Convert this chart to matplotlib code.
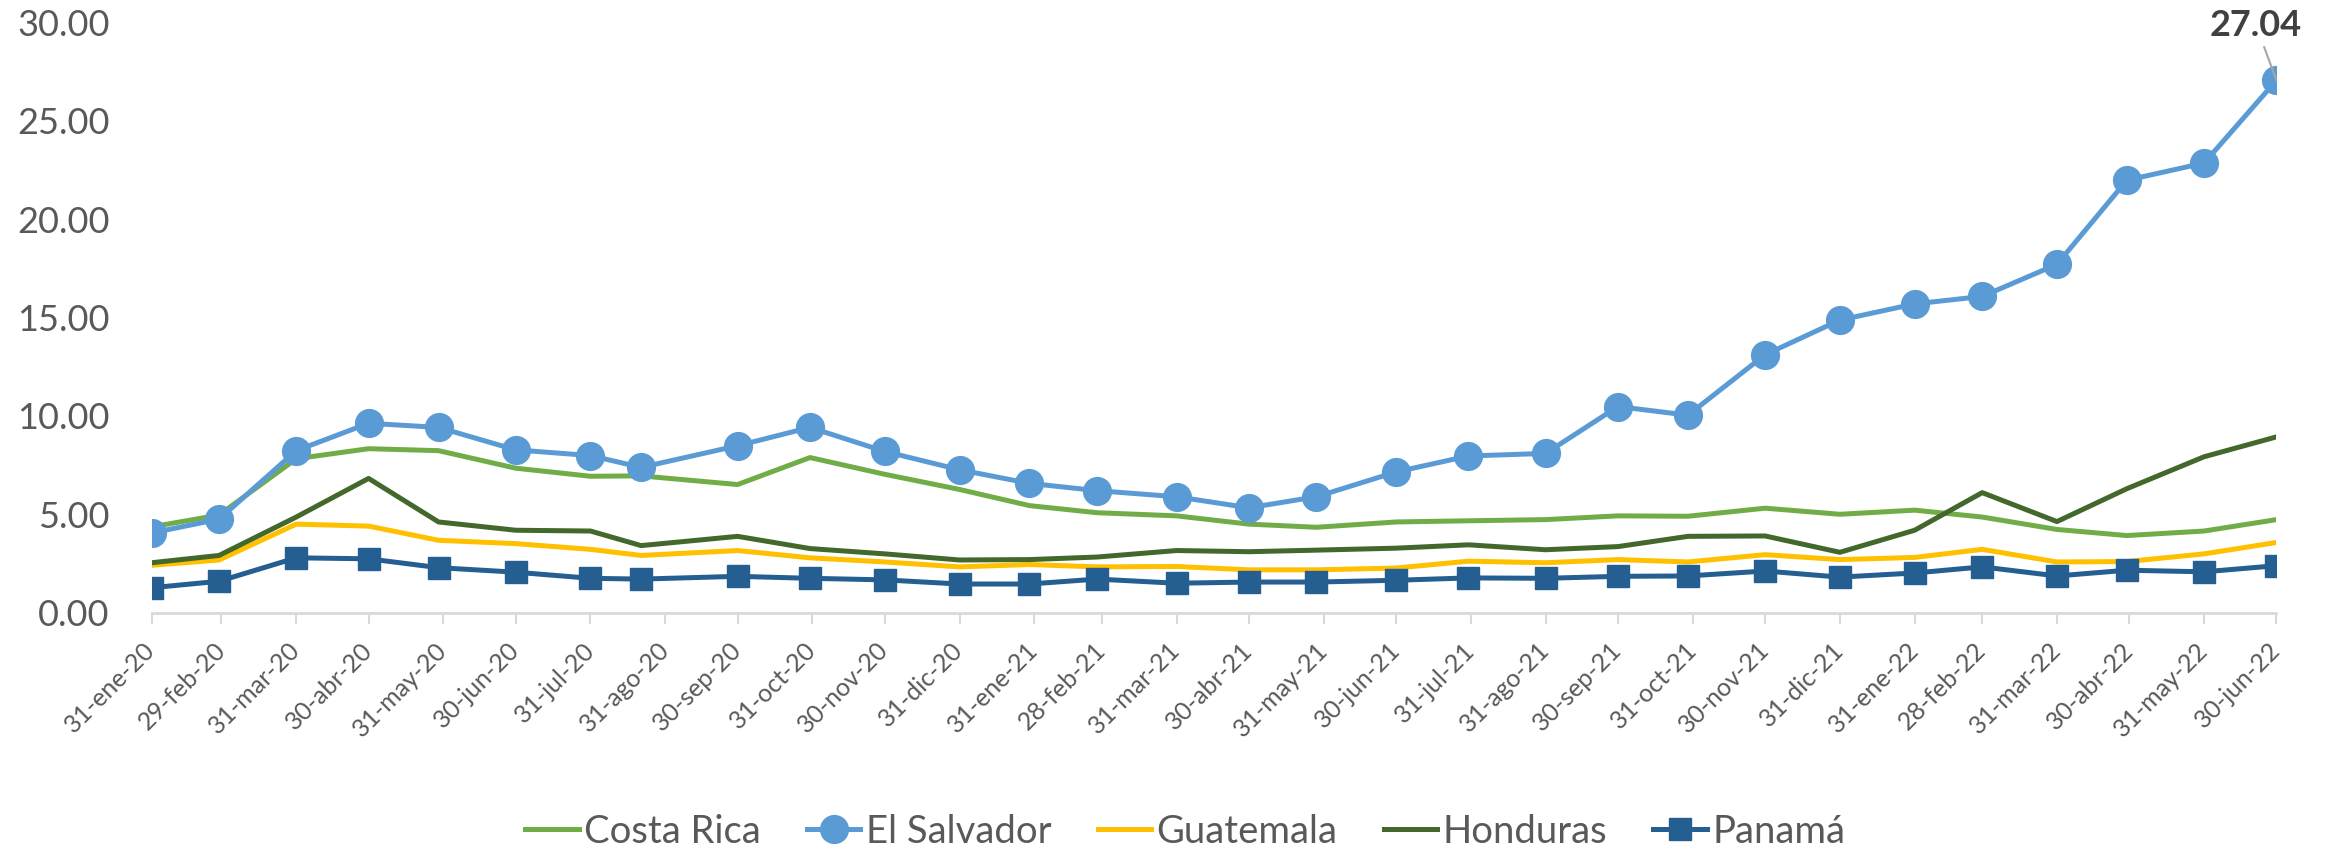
import numpy as np
import pandas as pd
import matplotlib
matplotlib.use('Agg')
import matplotlib.pyplot as plt

plt.rcParams['font.family'] = ['Lato', 'DejaVu Sans']

# fechas de cada dato (ultimo dia habil del mes, agosto 2020 a mitad de mes)
dates = pd.to_datetime([
    '2020-01-31', '2020-02-28', '2020-03-31', '2020-04-30', '2020-05-29', '2020-06-30',
    '2020-07-31', '2020-08-21', '2020-09-30', '2020-10-30', '2020-11-30', '2020-12-31',
    '2021-01-29', '2021-02-26', '2021-03-31', '2021-04-30', '2021-05-28', '2021-06-30',
    '2021-07-30', '2021-08-31', '2021-09-30', '2021-10-29', '2021-11-30', '2021-12-31',
    '2022-01-31', '2022-02-28', '2022-03-31', '2022-04-29', '2022-05-31', '2022-06-30'])

costa_rica = [4.37, 4.97, 7.83, 8.34, 8.24, 7.35, 6.94, 6.96, 6.52, 7.89, 7.04, 6.27, 5.45, 5.09, 4.93,
              4.51, 4.35, 4.62, 4.68, 4.74, 4.93, 4.91, 5.32, 5.01, 5.22, 4.87, 4.24, 3.93, 4.16, 4.74]
el_salvador = [4.06, 4.76, 8.24, 9.63, 9.42, 8.28, 7.99, 7.39, 8.49, 9.42, 8.20, 7.27, 6.58, 6.21, 5.90,
               5.34, 5.90, 7.16, 7.97, 8.10, 10.48, 10.04, 13.11, 14.87, 15.69, 16.07, 17.70, 21.97, 22.84, 27.04]
guatemala = [2.42, 2.69, 4.51, 4.41, 3.69, 3.52, 3.23, 2.92, 3.17, 2.80, 2.59, 2.34, 2.46, 2.34, 2.36,
             2.19, 2.19, 2.28, 2.63, 2.55, 2.71, 2.59, 2.96, 2.71, 2.82, 3.23, 2.59, 2.61, 3.00, 3.58]
honduras = [2.55, 2.92, 4.87, 6.83, 4.62, 4.20, 4.16, 3.42, 3.89, 3.27, 3.00, 2.69, 2.71, 2.84, 3.17,
            3.11, 3.19, 3.29, 3.46, 3.21, 3.37, 3.89, 3.91, 3.08, 4.20, 6.11, 4.64, 6.31, 7.93, 8.94]
panama = [1.28, 1.61, 2.80, 2.75, 2.30, 2.07, 1.76, 1.72, 1.86, 1.76, 1.68, 1.47, 1.47, 1.72, 1.51,
          1.57, 1.57, 1.66, 1.78, 1.76, 1.86, 1.88, 2.13, 1.82, 2.03, 2.34, 1.88, 2.17, 2.09, 2.40]

tick_labels = ['31-ene-20', '29-feb-20', '31-mar-20', '30-abr-20', '31-may-20', '30-jun-20',
               '31-jul-20', '31-ago-20', '30-sep-20', '31-oct-20', '30-nov-20', '31-dic-20',
               '31-ene-21', '28-feb-21', '31-mar-21', '30-abr-21', '31-may-21', '30-jun-21',
               '31-jul-21', '31-ago-21', '30-sep-21', '31-oct-21', '30-nov-21', '31-dic-21',
               '31-ene-22', '28-feb-22', '31-mar-22', '30-abr-22', '31-may-22', '30-jun-22']
tick_dates = pd.date_range('2020-01-31', '2022-06-30', freq='ME')

fig = plt.figure(figsize=(23.31, 8.47), dpi=100)
ax = fig.add_axes([0.065, 0.2763, 0.9116, 0.6977])

lw = 3.6
ax.plot(dates, costa_rica, color='#70AD47', lw=lw, label='Costa Rica')
ax.plot(dates, el_salvador, color='#5B9BD5', lw=lw, marker='o', markersize=20, label='El Salvador')
ax.plot(dates, guatemala, color='#FFC000', lw=lw, label='Guatemala')
ax.plot(dates, honduras, color='#43682B', lw=lw, label='Honduras')
ax.plot(dates, panama, color='#255E91', lw=lw, marker='s', markersize=16, label='Panamá')

ax.set_xlim(tick_dates[0], tick_dates[-1])
ax.set_ylim(0, 30)
ax.set_yticks(np.arange(0, 31, 5))
ax.yaxis.set_major_formatter(plt.FormatStrFormatter('%.2f'))
ax.set_xticks(tick_dates)
ax.set_xticklabels(tick_labels, rotation=45, ha='right', rotation_mode='anchor', va='center')

for s in ['top', 'right', 'left']:
    ax.spines[s].set_visible(False)
ax.spines['bottom'].set_color('#D9D9D9')
ax.spines['bottom'].set_linewidth(2)
ax.spines['bottom'].set_clip_on(False)
ax.tick_params(axis='y', length=0, pad=30, labelsize=26, labelcolor='#595959')
ax.tick_params(axis='x', length=8, width=1.5, color='#D9D9D9', pad=16, labelsize=18, labelcolor='#595959')

ax.annotate('27.04', xy=(dates[-1], el_salvador[-1]), xytext=(2256 / 2331, 1 - 25 / 847),
            textcoords='figure fraction', ha='center', va='center', fontsize=26, fontweight='bold',
            color='#404040', arrowprops=dict(arrowstyle='-', color='#A6A6A6', lw=1.5, shrinkA=2, shrinkB=0))

fig.legend(loc='center', bbox_to_anchor=(0.5085, 0.018), ncol=5, frameon=False, fontsize=27.5,
           labelcolor='#595959', handlelength=1.4, handletextpad=0.15, columnspacing=1.2)

plt.savefig('out.png', dpi=100)
